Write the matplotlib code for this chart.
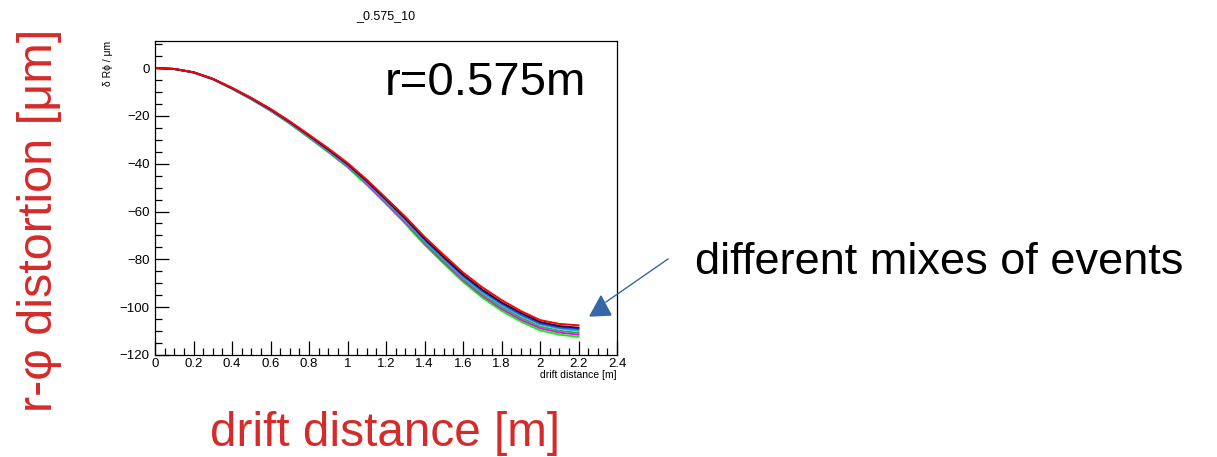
import numpy as np
import matplotlib
matplotlib.use("Agg")
import matplotlib.pyplot as plt
from matplotlib.patches import Polygon
from matplotlib.ticker import MultipleLocator

plt.rcParams['font.family'] = ['Liberation Sans', 'DejaVu Sans']

# ---------- DATA ----------
drift = [0.0, 0.1, 0.2, 0.3, 0.4, 0.5, 0.6, 0.7, 0.8, 0.9, 1.0, 1.1,
         1.2, 1.3, 1.4, 1.5, 1.6, 1.7, 1.8, 1.9, 2.0, 2.1, 2.2]

mix_red = [0, -0.4, -1.8, -4.5, -8.3, -12.5, -17.1, -22.3, -27.9, -33.6, -39.7, -46.7,
           -54.4, -62.2, -70.6, -78.2, -85.5, -91.7, -97.0, -101.6, -105.4, -107.0, -107.6]
mix_black = [0, -0.4, -1.8, -4.5, -8.4, -12.6, -17.3, -22.5, -28.2, -34.0, -40.1, -47.2,
             -54.9, -62.8, -71.3, -79.0, -86.4, -92.7, -98.0, -102.4, -106.2, -107.9, -108.6]
mix_blue = [0, -0.4, -1.8, -4.6, -8.4, -12.7, -17.4, -22.7, -28.3, -34.2, -40.4, -47.5,
            -55.3, -63.2, -71.8, -79.5, -86.9, -93.2, -98.6, -103.0, -106.8, -108.5, -109.2]
mix_cyan = [0, -0.4, -1.8, -4.6, -8.5, -12.8, -17.5, -22.8, -28.5, -34.4, -40.6, -47.8,
            -55.6, -63.6, -72.2, -80.0, -87.4, -93.8, -99.2, -103.6, -107.2, -109.0, -109.9]
mix_green = [0, -0.4, -1.8, -4.6, -8.6, -12.9, -17.6, -23.0, -28.7, -34.7, -40.9, -48.2,
             -56.0, -64.1, -72.8, -80.6, -88.1, -94.6, -100.0, -104.4, -108.1, -109.9, -110.8]
mix_magenta = [0, -0.4, -1.8, -4.7, -8.6, -13.0, -17.8, -23.1, -28.9, -34.9, -41.2, -48.5,
               -56.4, -64.6, -73.3, -81.2, -88.7, -95.2, -100.7, -105.2, -108.8, -110.6, -111.5]
mix_lime = [0, -0.4, -1.8, -4.7, -8.7, -13.1, -17.9, -23.3, -29.2, -35.2, -41.5, -48.9,
            -56.9, -65.1, -73.9, -81.8, -89.4, -96.0, -101.5, -106.0, -109.7, -111.5, -112.4]

series = [
    (mix_lime, "#00ff00"),
    (mix_magenta, "#ff00ff"),
    (mix_green, "#33aa55"),
    (mix_cyan, "#40b0c0"),
    (mix_blue, "#3050ff"),
    (mix_black, "#101040"),
    (mix_red, "#ff0000"),
]

RED = "#d42b2b"
ARROW = "#3766a6"

# ---------- PLOT ----------
fig = plt.figure(figsize=(12.17, 4.57), dpi=100)
ax = fig.add_axes([0.1274, 0.2232, 0.3796, 0.6871])

for vals, col in series:
    ax.plot(drift, vals, color=col, linewidth=1.4)

ax.set_xlim(0, 2.4)
ax.set_ylim(-120, 11.3)
ax.xaxis.set_major_locator(MultipleLocator(0.2))
ax.xaxis.set_minor_locator(MultipleLocator(0.05))
ax.yaxis.set_major_locator(MultipleLocator(20))
ax.yaxis.set_minor_locator(MultipleLocator(5))
ax.tick_params(which='both', direction='in', top=False, right=False, labelsize=9.5)
ax.tick_params(which='major', length=10, width=0.9)
ax.tick_params(which='minor', length=5, width=0.9)
ax.tick_params(axis='x', pad=2)
ax.tick_params(axis='y', pad=4)
ax.xaxis.set_major_formatter(plt.FuncFormatter(lambda v, p: f"{v:g}"))
for s in ax.spines.values():
    s.set_linewidth(0.9)

ax.set_title("_0.575_10", fontsize=9, pad=16)
ax.set_xlabel("drift distance [m]", fontsize=7.5, loc='right', labelpad=0)
ax.set_ylabel("δ Rϕ / μm", fontsize=7.5, loc='top', labelpad=5)

ax.text(0.933, 0.935, "r=0.575m", transform=ax.transAxes, fontsize=34,
        ha='right', va='top')

# ---------- SLIDE ANNOTATIONS ----------
ov = fig.add_axes([0, 0, 1, 1], zorder=5)
ov.set_xlim(0, 1217)
ov.set_ylim(457, 0)
ov.axis('off')
ov.patch.set_alpha(0)

ov.text(40, 220, "r-φ distortion [μm]", rotation=90, color=RED, fontsize=35,
        ha='center', va='center')
ov.text(385, 433, "drift distance [m]", color=RED, fontsize=34.4,
        ha='center', va='center')
ov.text(695, 263, "different mixes of events", fontsize=32.5,
        ha='left', va='center')

ov.plot([668, 606], [259, 302], color=ARROW, linewidth=1)
ov.add_patch(Polygon([[590, 316], [601, 296], [611, 315]], closed=True,
                     facecolor=ARROW, edgecolor=ARROW))

fig.savefig("out.png", dpi=100)
